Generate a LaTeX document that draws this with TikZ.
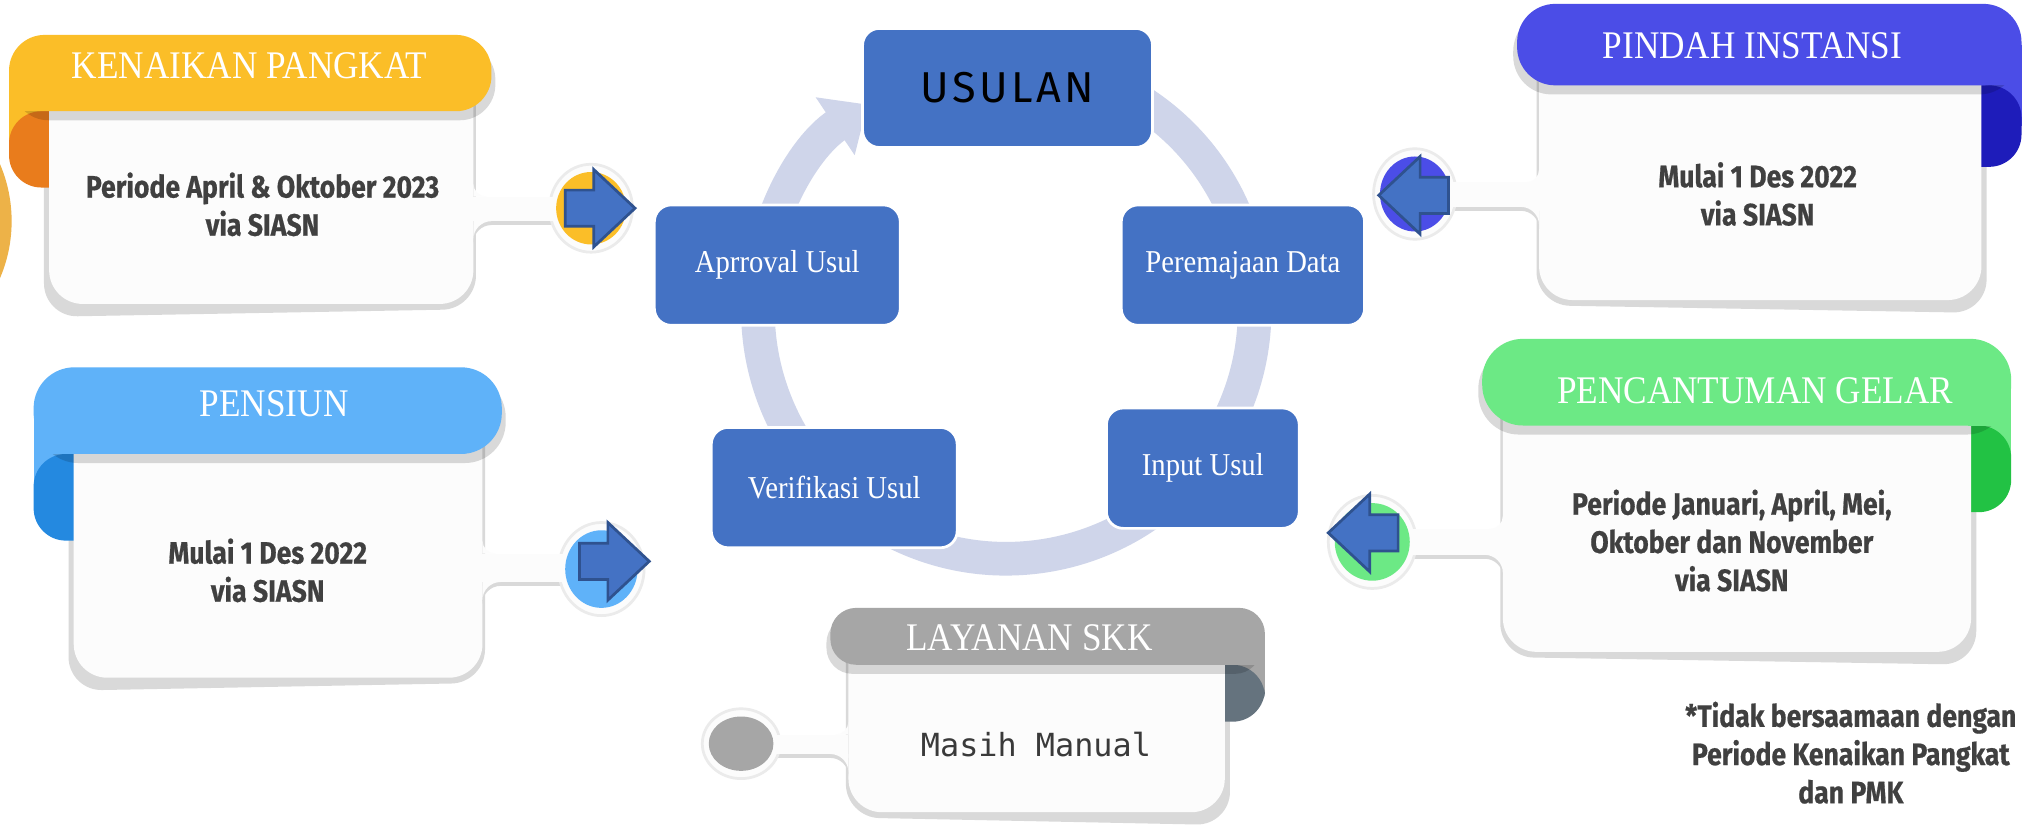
\documentclass[tikz,border=0pt]{standalone}
\usepackage{fontspec}
\usepackage{tikz}
\usetikzlibrary{arrows.meta}

\newfontfamily\titlefont{Liberation Serif}[FakeStretch=0.9]
\newfontfamily\bodyfont{Fira Sans}[FakeStretch=0.86, BoldFeatures={FakeBold=0.6}]
\newfontfamily\usulanfont{Fira Sans}[LetterSpace=8]
\newfontfamily\manualfont{DejaVu Sans Mono}

\definecolor{kpyellow}{HTML}{FBBE28}
\definecolor{kporange}{HTML}{E97C1C}
\definecolor{leftarc}{HTML}{EDB248}
\definecolor{psblue}{HTML}{5FB2F9}
\definecolor{psdark}{HTML}{2489E0}
\definecolor{pibanner}{HTML}{4B4DE7}
\definecolor{picurl}{HTML}{1E1CBA}
\definecolor{pgbanner}{HTML}{6CE985}
\definecolor{pgcurl}{HTML}{22C244}
\definecolor{lsbanner}{HTML}{A6A6A6}
\definecolor{lscurl}{HTML}{65737E}
\definecolor{boxblue}{HTML}{4472C4}
\definecolor{arrowline}{HTML}{2F528F}
\definecolor{ringcol}{HTML}{CFD5EA}
\definecolor{cardwhite}{HTML}{FCFCFC}
\definecolor{cardshadow}{HTML}{D9D9D9}
\definecolor{haloline}{HTML}{EBEBEB}
\definecolor{bodygrey}{HTML}{404040}

% scroll with the curl on the left: x0, banner end, card right, banner top, banner bottom, card bottom, colours
\newcommand{\scrollleft}[8]{%
  \pgfmathsetmacro{\bandh}{#5-#4}
  \pgfmathsetmacro{\bandr}{(\bandh/2-2)/100}
  \fill[cardshadow,rounded corners=0.26cm] ({#1+27},{#5-40}) -- ({#1+27},{#6+10}) -- ({#3+2},{#6+4}) -- ({#3+2},{#5-40}) -- cycle;
  \fill[#7] (#1,{#5-1}) rectangle ({#1+31},{#5+\bandh/2});
  \fill[#8,rounded corners=0.25cm] (#1,#5) rectangle ({#1+62},{#5+\bandh});
  \fill[cardwhite,rounded corners=0.26cm] ({#1+31},{#5-40}) rectangle (#3,#6);
  \fill[black,opacity=0.15,rounded corners=\bandr cm] ({#1+3},{#4+7}) rectangle ({#2+3},{#5+7});
  \fill[#7,rounded corners=\bandr cm] (#1,#4) rectangle (#2,#5);
  \fill[#7] (#1,{#5-\bandh/2}) rectangle ({#1+\bandh/2},#5);
}
% scroll with the curl on the right: banner start, x1, card left, banner top, banner bottom, card bottom, colours
\newcommand{\scrollright}[8]{%
  \pgfmathsetmacro{\bandh}{#5-#4}
  \pgfmathsetmacro{\bandr}{(\bandh/2-2)/100}
  \fill[cardshadow,rounded corners=0.26cm] ({#3-2},{#5-40}) -- ({#3-2},{#6+4}) -- ({#2-27},{#6+10}) -- ({#2-27},{#5-40}) -- cycle;
  \fill[#7] ({#2-31},{#5-1}) rectangle (#2,{#5+\bandh/2});
  \fill[#8,rounded corners=0.25cm] ({#2-62},#5) rectangle (#2,{#5+\bandh});
  \fill[cardwhite,rounded corners=0.26cm] (#3,{#5-40}) rectangle ({#2-31},#6);
  \fill[black,opacity=0.15,rounded corners=\bandr cm] ({#1-3},{#4+7}) rectangle ({#2-3},{#5+7});
  \fill[#7,rounded corners=\bandr cm] (#1,#4) rectangle (#2,#5);
  \fill[#7] ({#2-\bandh/2},{#5-\bandh/2}) rectangle (#2,#5);
}
% knob on a stem: centre, radii, colour, card edge, stem top, stem bottom
\newcommand{\knob}[8]{%
  \pgfmathsetmacro{\sd}{sign(#1-#6)}
  \fill[cardshadow] (#6,{#7+3}) rectangle (#1,{#8+3});
  \fill[cardshadow] (#6,{#8+3}) -- ({#6+14*\sd},{#8+3}) .. controls ({#6+6.3*\sd},{#8+3}) and (#6,{#8+9.3}) .. (#6,{#8+17}) -- cycle;
  \filldraw[fill=cardwhite,draw=haloline,line width=0.6pt] (#1,#2) ellipse [x radius={#3+5},y radius={#4+6}];
  \fill[cardwhite] (#6,#7) rectangle (#1,#8);
  \fill[cardwhite] (#6,#8) -- ({#6+14*\sd},#8) .. controls ({#6+6.3*\sd},#8) and (#6,{#8+6.3}) .. (#6,{#8+14}) -- cycle;
  \fill[cardwhite] (#6,#7) -- ({#6+10*\sd},#7) .. controls ({#6+4.5*\sd},#7) and (#6,{#7-4.5}) .. (#6,{#7-10}) -- cycle;
  \fill[#5] (#1,#2) ellipse [x radius=#3,y radius=#4];
}
\newcommand{\blockarrow}[3]{%
  \draw[arrowshape,shift={(#1,#2)},xscale=#3] (-22,-14) -- (0,-14) -- (0,-30) -- (32,0) -- (0,30) -- (0,14) -- (-22,14) -- cycle;
}

\begin{document}
\begin{tikzpicture}[x=0.01cm, y=-0.01cm,
    titletext/.style={text=white, inner sep=0pt, font=\titlefont\fontsize{8.6}{10}\selectfont},
    bodytext/.style={text=bodygrey, align=center, inner sep=0pt, font=\bodyfont\bfseries\fontsize{6.8}{8.4}\selectfont},
    cyclebox/.style={fill=boxblue, draw=white, line width=0.6pt, rounded corners=0.13cm, text=white, inner sep=0pt, minimum height=0.93cm, font=\titlefont\fontsize{7}{8}\selectfont},
    ring/.style={draw=ringcol, line width=0.26cm, -{Triangle[width=0.52cm,length=0.3cm]}},
    arrowshape/.style={fill=boxblue, draw=arrowline, line width=0.6pt, line join=miter}]
    \clip (0,0) rectangle (1568,640);
    \fill[white] (0,0) rectangle (1568,640);
    \fill[leftarc] (-103,171) circle [radius=112];

    %Cycle
    \coordinate (O) at (778,240);
    \draw[ring] (O) ++(-58:192) arc[start angle=-58, end angle=236, radius=192];
    \node[cyclebox, minimum width=2.24cm, minimum height=0.92cm, text=black, font=\usulanfont\fontsize{9.5}{11}\selectfont] at (779,68) (U) {USULAN};
    \node[cyclebox, minimum width=1.88cm] at (961,205) (PD) {Peremajaan Data};
    \node[cyclebox, minimum width=1.49cm] at (930,362) (IU) {Input Usul};
    \node[cyclebox, minimum width=1.90cm] at (645,377) (VU) {Verifikasi Usul};
    \node[cyclebox, minimum width=1.90cm] at (601,205) (AU) {Aprroval Usul};

    %Cards
    \scrollleft{7}{380}{366}{27}{86}{235}{kpyellow}{kporange}
    \scrollleft{26}{388}{373}{284}{351}{524}{psblue}{psdark}
    \scrollright{1173}{1563}{1190}{3}{66}{232}{pibanner}{picurl}
    \scrollright{1146}{1555}{1162}{262}{329}{504}{pgbanner}{pgcurl}
    \scrollright{642}{978}{656}{470}{514}{628}{lsbanner}{lscurl}

    %Knobs
    \knob{457}{161}{27}{28}{kpyellow}{366}{152}{171}
    \knob{465}{440}{28}{30}{psblue}{373}{428}{450}
    \knob{1094}{150}{27}{29}{pibanner}{1190}{141}{160}
    \knob{1061}{419}{29}{30}{pgbanner}{1162}{409}{429}
    \knob{573}{575}{25}{21}{lsbanner}{656}{568}{583}
    \blockarrow{459}{161}{1}
    \blockarrow{470}{434}{1}
    \blockarrow{1098}{151}{-1}
    \blockarrow{1059}{412}{-1}

    %Nodes
    \node[titletext] at (193,51) (KP) {KENAIKAN PANGKAT};
    \node[titletext] at (212,312) (PS) {PENSIUN};
    \node[titletext] at (1355,35) (PI) {PINDAH INSTANSI};
    \node[titletext] at (1357,302) (PG) {PENCANTUMAN GELAR};
    \node[titletext] at (796,493) (LS) {LAYANAN SKK};
    \node[bodytext] at (203,158) (KPt) {Periode April \& Oktober 2023\\via SIASN};
    \node[bodytext] at (207,441) (PSt) {Mulai 1 Des 2022\\via SIASN};
    \node[bodytext] at (1359,150) (PIt) {Mulai 1 Des 2022\\via SIASN};
    \node[bodytext] at (1339,418) (PGt) {Periode Januari, April, Mei,\\Oktober dan November\\via SIASN};
    \node[text=bodygrey!90!black, inner sep=0pt, font=\manualfont\fontsize{7}{8}\selectfont] at (801,576) (LSt) {Masih Manual};
    \node[bodytext] at (1431,582) (NB) {*Tidak bersaamaan dengan\\Periode Kenaikan Pangkat\\dan PMK};
\end{tikzpicture}
\end{document}
